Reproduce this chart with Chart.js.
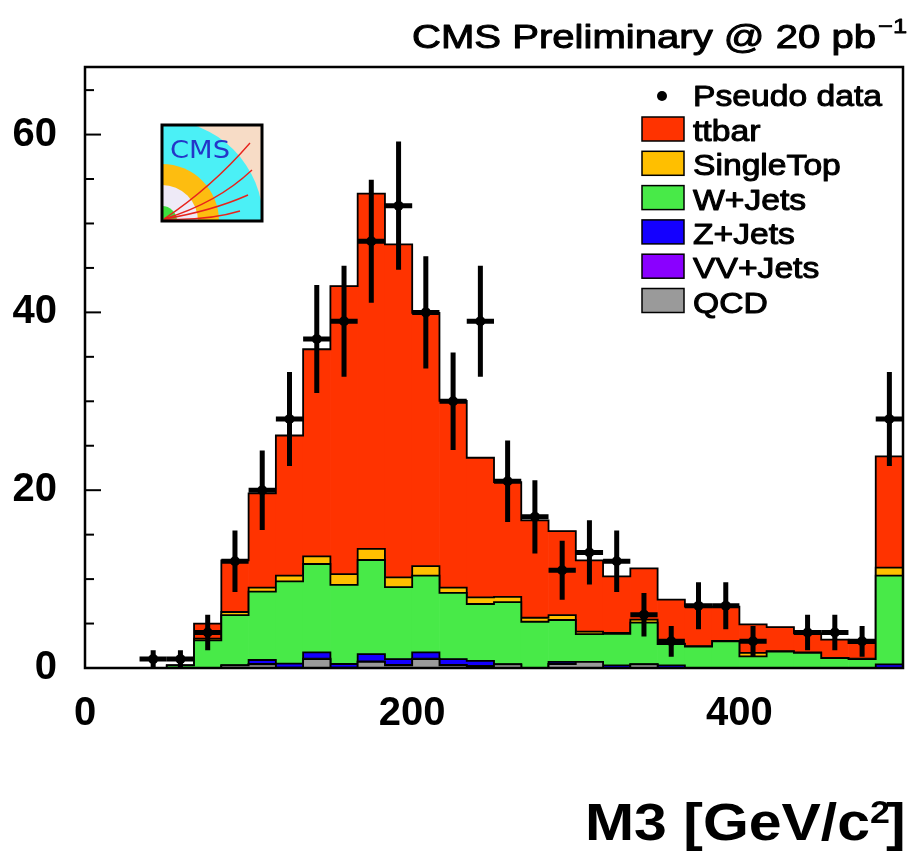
<!DOCTYPE html>
<html lang="en">
<head>
<meta charset="UTF-8">
<title>M3 stack</title>
<script src="https://cdn.jsdelivr.net/npm/chart.js@4.4.0/dist/chart.umd.min.js"></script>
<style>
  html, body { margin: 0; padding: 0; background: #fff; }
  canvas { display: block; }
</style>
</head>
<body>
<canvas id="m3" width="908" height="861"></canvas>
<script>
// 30 bins of M3 between 0 and 500 GeV/c^2
const binCenters = [8.33, 25, 41.67, 58.33, 75, 91.67, 108.33, 125, 141.67, 158.33,
  175, 191.67, 208.33, 225, 241.67, 258.33, 275, 291.67, 308.33, 325,
  341.67, 358.33, 375, 391.67, 408.33, 425, 441.67, 458.33, 475, 491.67];

// stack, bottom to top
const qcd       = [0,0,0,0,0,0.3,0.4,0,1.0,0,0.7,0.3,1.0,0.3,0.2,0.4,0,0.45,0.7,0,0.4,0,0,0,0,0,0,0,0,0];
const vvJets    = [0,0,0,0,0,0,0.05,0.05,0.05,0.05,0.05,0.05,0.05,0.05,0.05,0,0,0,0,0,0,0,0,0,0,0,0,0,0,0];
const zJets     = [0,0,0,0,0,0,0.45,0.45,0.7,0.4,0.8,0.65,0.7,0.65,0.55,0,0,0.25,0,0.3,0,0.3,0,0,0,0,0,0,0,0.4];
const wJets     = [0,0,0,0.3,3.1,5.65,7.7,9.25,9.95,8.9,10.6,8.1,8.65,7.45,6.4,7.0,5.2,4.7,3.1,3.55,4.7,2.4,2.4,3.0,1.3,1.85,1.7,1.1,1.0,10.0];
const singleTop = [0,0,0,0,0.2,0.35,0.45,0.65,0.85,1.2,1.25,1.1,1.05,0.6,0.75,0.6,0.45,0.55,0.3,0.1,0.35,0.05,0.05,0.05,0.4,0.05,0.05,0.05,0.05,0.9];
const ttbar     = [0,0,0,0,1.7,5.8,10.6,15.75,23.3,32.4,39.95,37.45,28.5,21.0,15.7,12.9,10.95,9.45,8.0,6.35,5.75,4.95,4.45,3.85,3.2,2.7,2.15,2.05,1.75,12.5];

const pseudoData = [0,0,1,1,4,12,20,28,37,39,48,52,40,30,39,21,17,11,13,12,6,3,7,7,3,0,4,4,3,28];
const dataErr    = [0,0,1,1,2,3.46,4.47,5.29,6.08,6.24,6.93,7.21,6.32,5.48,6.24,4.58,4.12,3.32,3.61,3.46,2.45,1.73,2.65,2.65,1.73,0,2,2,1.73,5.29];

const xTickLabels = [0, 200, 400];
const yTickLabels = [0, 20, 40, 60];

const FONT = '"Liberation Sans", Arial, Helvetica, sans-serif';

const legendItems = [
  { label: 'ttbar', color: '#ff3300' },
  { label: 'SingleTop', color: '#ffbf00' },
  { label: 'W+Jets', color: '#48ea48' },
  { label: 'Z+Jets', color: '#1400ff' },
  { label: 'VV+Jets', color: '#8a00ff' },
  { label: 'QCD', color: '#9a9a9a' }
];

function pts(arr) {
  return arr.map((v, i) => ({ x: binCenters[i], y: v }));
}

function histo(label, arr, color) {
  return {
    label: label,
    data: pts(arr),
    backgroundColor: color,
    borderWidth: 0,
    barPercentage: 1,
    categoryPercentage: 1,
    stack: 'mc'
  };
}

// text drawn a little wider and heavier, like the ROOT output
function wideText(ctx, txt, x, y, sx, heavy) {
  ctx.save();
  ctx.translate(x, y);
  ctx.scale(sx, 1);
  ctx.textAlign = 'left';
  ctx.fillText(txt, 0, 0);
  if (heavy) {
    ctx.lineWidth = heavy;
    ctx.strokeStyle = ctx.fillStyle;
    ctx.lineJoin = 'round';
    ctx.strokeText(txt, 0, 0);
  }
  ctx.restore();
}

function drawLogo(ctx, x, y, w, h) {
  ctx.save();
  ctx.beginPath();
  ctx.rect(x, y, w, h);
  ctx.clip();
  ctx.fillStyle = '#f7dcc6';
  ctx.fillRect(x, y, w, h);
  const cx = x, cy = y + h;
  const ring = (r, c) => {
    ctx.beginPath();
    ctx.moveTo(cx, cy);
    ctx.arc(cx, cy, r, -Math.PI / 2, 0);
    ctx.closePath();
    ctx.fillStyle = c;
    ctx.fill();
  };
  ring(101, '#4bf0f6');
  ring(57, '#fdbd10');
  ring(36, '#eeeaf7');
  ring(15, '#3ee03e');
  ctx.strokeStyle = '#e8231c';
  ctx.lineWidth = 1.4;
  const tracks = [[88, 18, 50, 62], [90, 45, 55, 78], [86, 70, 50, 86], [78, 86, 45, 96]];
  tracks.forEach(t => {
    ctx.beginPath();
    ctx.moveTo(cx + 2, cy - 2);
    ctx.quadraticCurveTo(x + t[2], y + t[3], x + t[0], y + t[1]);
    ctx.stroke();
  });
  ctx.fillStyle = '#2436c8';
  ctx.font = '25px "DejaVu Sans", ' + FONT;
  const sx = 60 / ctx.measureText('CMS').width;
  wideText(ctx, 'CMS', x + 8, y + 33, sx);
  ctx.restore();
  ctx.strokeStyle = '#000';
  ctx.lineWidth = 3;
  ctx.strokeRect(x, y, w, h);
}

const rootStyle = {
  id: 'rootStyle',
  afterDatasetDraw(chart, args) {
    const ctx = chart.ctx;
    const meta = args.meta;
    const ys = chart.scales.y;
    const yZero = ys.getPixelForValue(0);
    ctx.save();
    if (meta.type === 'bar') {
      // step contour of the cumulative histogram
      const els = meta.data;
      ctx.beginPath();
      ctx.moveTo(els[0].x - els[0].width / 2, yZero);
      els.forEach(el => {
        ctx.lineTo(el.x - el.width / 2, el.y);
        ctx.lineTo(el.x + el.width / 2, el.y);
      });
      const last = els[els.length - 1];
      ctx.lineTo(last.x + last.width / 2, yZero);
      ctx.strokeStyle = '#000';
      ctx.lineWidth = 1.8;
      ctx.stroke();
    } else {
      // error bars of the pseudo data
      const binW = chart.getDatasetMeta(0).data[0].width;
      ctx.strokeStyle = '#000';
      ctx.lineWidth = 5;
      meta.data.forEach((el, i) => {
        const v = pseudoData[i];
        if (v <= 0) return;
        ctx.beginPath();
        ctx.moveTo(el.x, ys.getPixelForValue(v + dataErr[i]));
        ctx.lineTo(el.x, ys.getPixelForValue(Math.max(0, v - dataErr[i])));
        ctx.moveTo(el.x - binW / 2, el.y);
        ctx.lineTo(el.x + binW / 2, el.y);
        ctx.stroke();
      });
    }
    ctx.restore();
  },
  afterDraw(chart) {
    const ctx = chart.ctx;
    const a = chart.chartArea;
    const ys = chart.scales.y;
    ctx.save();

    // inner y ticks
    ctx.strokeStyle = '#000';
    ctx.lineWidth = 2;
    for (let v = 0; v <= 65; v += 5) {
      const py = ys.getPixelForValue(v);
      const len = v % 20 === 0 ? 16 : 9;
      ctx.beginPath();
      ctx.moveTo(a.left, py);
      ctx.lineTo(a.left + len, py);
      ctx.stroke();
    }

    // frame
    ctx.lineWidth = 2.5;
    ctx.strokeRect(a.left, a.top, a.right - a.left, a.bottom - a.top);

    // title
    ctx.fillStyle = '#000';
    ctx.textBaseline = 'alphabetic';
    ctx.font = '33px ' + FONT;
    const main = 'CMS Preliminary @ 20 pb';
    const tsx = 464 / ctx.measureText(main).width;
    wideText(ctx, main, 412, 48, tsx, 1);
    ctx.font = '21px ' + FONT;
    wideText(ctx, '\u22121', 878, 33, tsx, 0.8);

    // axis title
    ctx.font = 'bold 51px ' + FONT;
    const ax = 'M3 [GeV/c';
    const asx = 285 / ctx.measureText(ax).width;
    wideText(ctx, ax, 585, 840, asx);
    ctx.font = 'bold 31px ' + FONT;
    wideText(ctx, '2', 870, 823, asx);
    ctx.font = 'bold 51px ' + FONT;
    wideText(ctx, ']', 886, 840, asx);

    // legend
    ctx.font = '29px ' + FONT;
    const lsx = 189 / ctx.measureText('Pseudo data').width;
    ctx.beginPath();
    ctx.arc(662, 96, 5, 0, Math.PI * 2);
    ctx.fill();
    wideText(ctx, 'Pseudo data', 693, 106, lsx, 1);
    legendItems.forEach((it, i) => {
      const top = 117 + i * 34.3;
      ctx.fillStyle = it.color;
      ctx.fillRect(642, top, 42, 24);
      ctx.strokeStyle = '#000';
      ctx.lineWidth = 1.5;
      ctx.strokeRect(642, top, 42, 24);
      ctx.fillStyle = '#000';
      wideText(ctx, it.label, 693, top + 24, lsx, 1);
    });

    drawLogo(ctx, 162, 125, 100, 96);
    ctx.restore();
  }
};

new Chart(document.getElementById('m3'), {
  type: 'bar',
  data: {
    datasets: [
      histo('QCD', qcd, '#9a9a9a'),
      histo('VV+Jets', vvJets, '#8a00ff'),
      histo('Z+Jets', zJets, '#1400ff'),
      histo('W+Jets', wJets, '#48ea48'),
      histo('SingleTop', singleTop, '#ffbf00'),
      histo('ttbar', ttbar, '#ff3300'),
      {
        type: 'line',
        label: 'Pseudo data',
        data: pts(pseudoData),
        showLine: false,
        stack: 'data',
        order: -1,
        pointRadius: ctx => (ctx.raw && ctx.raw.y > 0 ? 5 : 0),
        pointBackgroundColor: '#000',
        pointBorderWidth: 0
      }
    ]
  },
  options: {
    responsive: false,
    animation: false,
    layout: { padding: { top: 67, right: 2, left: 0, bottom: 0 } },
    plugins: {
      legend: { display: false },
      tooltip: { enabled: false }
    },
    scales: {
      x: {
        type: 'linear',
        min: 0,
        max: 500,
        offset: false,
        stacked: true,
        grid: { display: false, drawTicks: false, offset: false },
        border: { display: false },
        ticks: {
          stepSize: 200,
          padding: 22,
          maxRotation: 0,
          color: '#000',
          font: { family: FONT, size: 40, weight: 'bold' }
        },
        afterBuildTicks: s => { s.ticks = s.ticks.filter(t => xTickLabels.includes(t.value)); },
        afterFit: s => { s.height = 193; }
      },
      y: {
        min: 0,
        max: 67.6,
        stacked: true,
        grid: { display: false, drawTicks: false },
        border: { display: false },
        ticks: {
          stepSize: 20,
          padding: 28,
          color: '#000',
          font: { family: FONT, size: 40, weight: 'bold' }
        },
        afterBuildTicks: s => { s.ticks = s.ticks.filter(t => yTickLabels.includes(t.value)); },
        afterFit: s => { s.width = 85; }
      }
    }
  },
  plugins: [rootStyle]
});
</script>
</body>
</html>
